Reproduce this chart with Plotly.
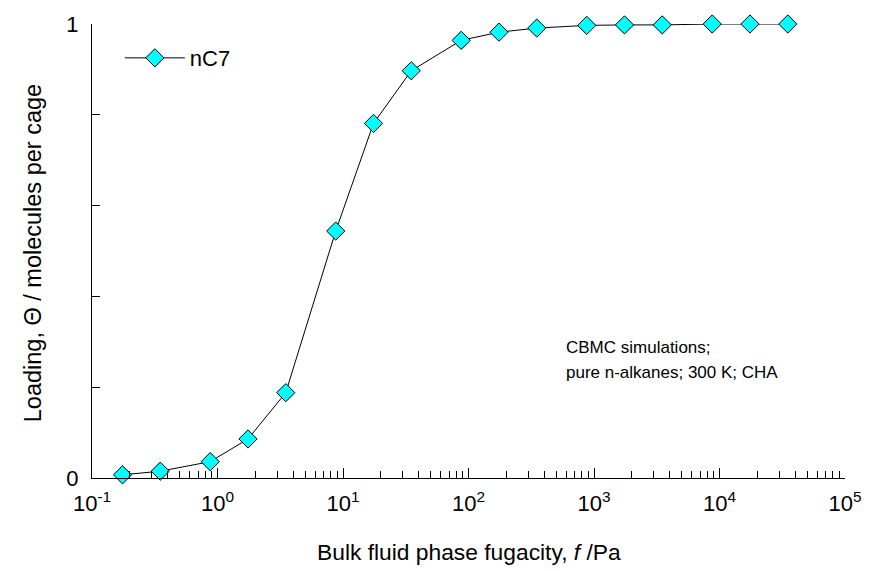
import plotly.graph_objects as go

# Data
fugacity = [0.175, 0.35, 0.875, 1.75, 3.5, 8.75, 17.5, 35, 87.5, 175, 350,
            875, 1750, 3500, 8750, 17500, 35000]
loading = [0.007, 0.015, 0.036, 0.086, 0.188, 0.544, 0.781, 0.897, 0.964,
           0.982, 0.991, 0.997, 0.998, 0.998, 1.0, 1.0, 1.0]
series_name = "nC7"

x_tick_vals = [0.1, 1, 10, 100, 1000, 10000, 100000]
x_tick_text = ["10<sup>-1</sup>", "10<sup>0</sup>", "10<sup>1</sup>", "10<sup>2</sup>",
               "10<sup>3</sup>", "10<sup>4</sup>", "10<sup>5</sup>"]
y_tick_vals = [0, 0.2, 0.4, 0.6, 0.8, 1.0]
y_tick_text = ["0", "", "", "", "", "1"]

note_lines = ["CBMC simulations;", "pure n-alkanes; 300 K; CHA"]

minor_vals = [m * 10 ** k for k in range(-1, 5) for m in range(2, 10)]

FONT = "Liberation Sans, Arial, sans-serif"

fig = go.Figure()
fig.add_trace(go.Scatter(
    x=fugacity, y=loading, name=series_name, mode="lines+markers",
    line=dict(color="black", width=1),
    marker=dict(symbol="diamond", size=14, color="#00FFFF",
                line=dict(color="black", width=1)),
    cliponaxis=False,
))

annotations = [
    dict(text="Bulk fluid phase fugacity, <i>f</i> /Pa",
         xref="paper", yref="paper", x=0.5, y=-0.163,
         xanchor="center", yanchor="middle", showarrow=False,
         font=dict(size=22.8)),
    dict(text="Loading, \u0398 / molecules per cage",
         xref="paper", yref="paper", x=-0.079, y=0.494,
         xanchor="center", yanchor="middle", showarrow=False,
         textangle=-90, font=dict(size=23.5)),
]
for i, line in enumerate(note_lines):
    annotations.append(dict(
        text=line, xref="paper", yref="paper", x=0.627, y=0.288 - i * 0.055,
        xanchor="left", yanchor="middle", align="left", showarrow=False,
        font=dict(size=17)))

fig.update_layout(
    width=874, height=571,
    margin=dict(l=92, r=26, t=24, b=93),
    paper_bgcolor="white", plot_bgcolor="white",
    font=dict(family=FONT, size=22, color="black"),
    showlegend=True,
    legend=dict(x=0.037, y=0.925, xanchor="left", yanchor="middle",
                bgcolor="rgba(0,0,0,0)", font=dict(size=22), itemwidth=60),
    xaxis=dict(
        type="log", range=[-1, 5], tickmode="array",
        tickvals=x_tick_vals, ticktext=x_tick_text,
        ticks="inside", ticklen=10, tickcolor="black", tickwidth=1,
        showline=True, linecolor="black", linewidth=1,
        showgrid=False, zeroline=False,
        tickfont=dict(size=22), ticklabelstandoff=6,
        minor=dict(tickmode="array", tickvals=minor_vals, ticks="inside",
                   ticklen=7, tickcolor="black", tickwidth=1, showgrid=False),
    ),
    yaxis=dict(
        range=[0, 1], tickmode="array",
        tickvals=y_tick_vals, ticktext=y_tick_text,
        ticks="inside", ticklen=8, tickcolor="black", tickwidth=1,
        showline=True, linecolor="black", linewidth=1,
        showgrid=False, zeroline=False,
        tickfont=dict(size=22), ticklabelstandoff=8,
    ),
    annotations=annotations,
)

fig.write_html("out.html")
